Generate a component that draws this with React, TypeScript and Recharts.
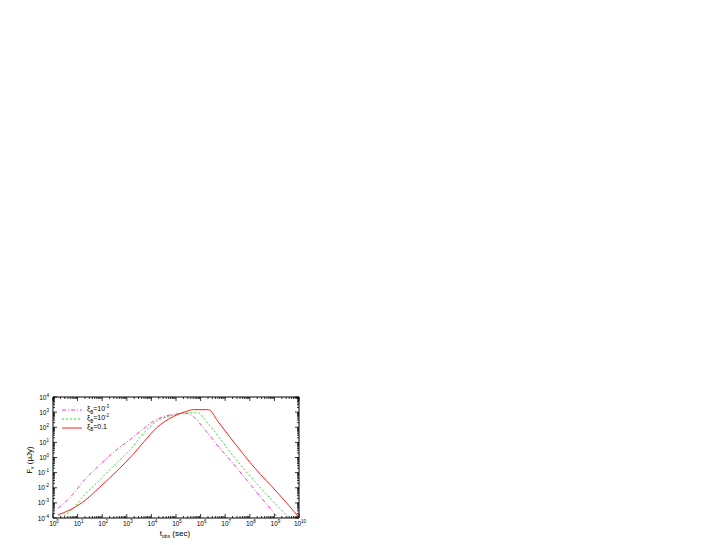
import { LineChart, Line, XAxis, YAxis, Legend } from 'recharts'

// afterglow light curves (t in sec, flux in μJy)
const tRed = [1.6, 5, 16, 80, 400, 1800, 5000, 1.6e4, 8e4, 2.5e5, 5e5, 2.1e6, 5e6, 1.26e7, 1.6e8, 1.4e9, 1e10]
const fRed = [1.6e-4, 3.5e-4, 1.1e-3, 1.1e-2, 0.13, 1.6, 11, 90, 520, 1100, 1450, 1450, 250, 35, 0.2, 4.4e-3, 1.1e-4]

const tGreen = [2, 6.3, 16.6, 80, 380, 1800, 3500, 1.6e4, 8e4, 2.5e5, 8e5, 1.7e6, 6e6, 1.3e7, 1.6e8, 1e9, 4e9]
const fGreen = [1e-4, 4e-4, 2.6e-3, 3.3e-2, 0.43, 5.4, 22, 240, 630, 900, 900, 240, 19, 3.5, 2.6e-2, 1e-3, 1e-4]

const tPink = [1.6, 6.3, 16.6, 80, 380, 1260, 3300, 1.6e4, 7.6e4, 2.8e5, 4.9e5, 1.7e6, 6e6, 1.3e7, 1.6e8, 1.4e9]
const fPink = [4.5e-4, 3.5e-3, 2.6e-2, 0.33, 3.2, 14, 50, 320, 700, 830, 520, 54, 4.2, 1, 7.2e-3, 1e-4]

const xExps = [0, 1, 2, 3, 4, 5, 6, 7, 8, 9, 10]
const yExps = [-4, -3, -2, -1, 0, 1, 2, 3, 4]

const seriesNames = ['pink', 'green', 'red']
const seriesExps = ['-3', '-2', '']
const seriesColors = ['#ff33cc', '#33dd33', '#ff2020']
const seriesDash = ['4 2 1 2', '2 2', undefined]

const toRows = (t: number[], f: number[]) => t.map((v, i) => ({ t: v, f: f[i] }))

// major + minor log ticks
const withMinor = (exps: number[]) => {
  const out: number[] = []
  exps.forEach((e, i) => {
    out.push(Math.pow(10, e))
    if (i < exps.length - 1) for (let k = 2; k < 10; k++) out.push(k * Math.pow(10, e))
  })
  return out
}
const xTicks = withMinor(xExps)
const yTicks = withMinor(yExps)

const FONT = '"Liberation Sans", Arial, sans-serif'

const isMajor = (v: number) => {
  const l = Math.log10(v)
  return Math.abs(l - Math.round(l)) < 1e-6
}

function Pow({ x, y, exp, anchor }: { x: number; y: number; exp: number; anchor: 'middle' | 'end' }) {
  return (
    <text x={x} y={y} textAnchor={anchor} fontSize={6.5} fontFamily={FONT} fill="#000">
      10<tspan dy={-3} fontSize={4.5}>{exp}</tspan>
    </text>
  )
}

function BottomTick(props: any) {
  const { x, y, payload } = props
  const major = isMajor(payload.value)
  return (
    <g>
      <line x1={x} x2={x} y1={y} y2={y - (major ? 4 : 2)} stroke="#000" strokeWidth={0.8} />
      {major && <Pow x={x + 1} y={y + 8} exp={Math.round(Math.log10(payload.value))} anchor="middle" />}
    </g>
  )
}

function TopTick(props: any) {
  const { x, y, payload } = props
  const major = isMajor(payload.value)
  return <line x1={x} x2={x} y1={y} y2={y + (major ? 4 : 2)} stroke="#000" strokeWidth={0.8} />
}

function LeftTick(props: any) {
  const { x, y, payload } = props
  const major = isMajor(payload.value)
  return (
    <g>
      <line x1={x} x2={x + (major ? 4 : 2)} y1={y} y2={y} stroke="#000" strokeWidth={0.8} />
      {major && <Pow x={x - 4} y={y + 2.5} exp={Math.round(Math.log10(payload.value))} anchor="end" />}
    </g>
  )
}

function RightTick(props: any) {
  const { x, y, payload } = props
  const major = isMajor(payload.value)
  return <line x1={x} x2={x - (major ? 4 : 2)} y1={y} y2={y} stroke="#000" strokeWidth={0.8} />
}

function LegendBox() {
  return (
    <div style={{ fontFamily: FONT, fontSize: 7, lineHeight: '9.3px' }}>
      {seriesNames.map((n, i) => (
        <div key={n} style={{ display: 'flex', alignItems: 'center', height: 9.3 }}>
          <svg width={22} height={4} style={{ marginRight: 3 }}>
            <line x1={0} x2={20} y1={2} y2={2} stroke={seriesColors[i]} strokeWidth={1} strokeDasharray={seriesDash[i]} />
          </svg>
          <span>
            ξ<sub style={{ fontSize: 4.5 }}>B</sub>={i < 2 ? <>10<sup style={{ fontSize: 4.5 }}>{seriesExps[i]}</sup></> : '0.1'}
          </span>
        </div>
      ))}
    </div>
  )
}

export default function App() {
  const lines = [toRows(tPink, fPink), toRows(tGreen, fGreen), toRows(tRed, fRed)]
  return (
    <div style={{ position: 'absolute', left: 0, top: 0, width: 708, height: 545, background: '#fff' }}>
      <LineChart width={708} height={545} margin={{ top: 396, right: 408, bottom: 26, left: 52 }}>
        <XAxis xAxisId="b" dataKey="t" type="number" scale="log" domain={[1, 1e10]} allowDataOverflow
          ticks={xTicks} interval={0} height={1} tickSize={0} tickMargin={0} tick={<BottomTick />}
          stroke="#000" />
        <XAxis xAxisId="t" orientation="top" dataKey="t" type="number" scale="log" domain={[1, 1e10]} allowDataOverflow
          ticks={xTicks} interval={0} height={1} tickSize={0} tickMargin={0} tick={<TopTick />}
          stroke="#000" />
        <YAxis yAxisId="l" dataKey="f" type="number" scale="log" domain={[1e-4, 1e4]} allowDataOverflow
          ticks={yTicks} interval={0} width={1} tickSize={0} tickMargin={0} tick={<LeftTick />}
          stroke="#000" />
        <YAxis yAxisId="r" orientation="right" dataKey="f" type="number" scale="log" domain={[1e-4, 1e4]} allowDataOverflow
          ticks={yTicks} interval={0} width={1} tickSize={0} tickMargin={0} tick={<RightTick />}
          stroke="#000" />
        <Legend layout="vertical" align="center" verticalAlign="middle" content={<LegendBox />}
          wrapperStyle={{ left: 62, top: 405, width: 90, height: 30 }} />
        {lines.map((d, i) => (
          <Line key={seriesNames[i]} xAxisId="b" yAxisId="l" data={d} dataKey="f" name={seriesNames[i]}
            type="monotone" stroke={seriesColors[i]} strokeWidth={1} strokeDasharray={seriesDash[i]}
            dot={false} isAnimationActive={false} />
        ))}
      </LineChart>
      <div style={{ position: 'absolute', left: 30, top: 460, transform: 'translate(-50%, -50%) rotate(-90deg)',
        fontFamily: FONT, fontSize: 8, whiteSpace: 'nowrap' }}>
        F<sub style={{ fontSize: 5 }}>ν</sub> (μJy)
      </div>
      <div style={{ position: 'absolute', left: 175, top: 533, transform: 'translate(-50%, -50%)',
        fontFamily: FONT, fontSize: 8, whiteSpace: 'nowrap', lineHeight: '9px' }}>
        t<sub style={{ fontSize: 5, lineHeight: 0 }}>obs</sub> (sec)
      </div>
    </div>
  )
}
